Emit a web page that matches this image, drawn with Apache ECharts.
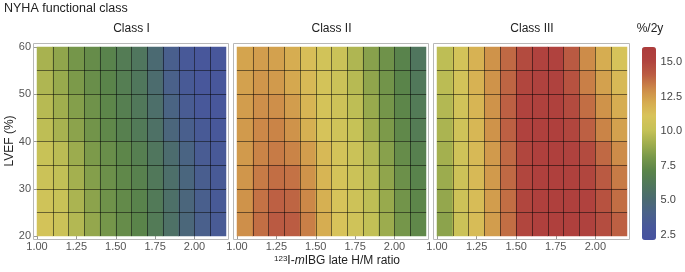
<!DOCTYPE html>
<html>
<head>
<meta charset="utf-8">
<script src="https://cdn.jsdelivr.net/npm/echarts@6/dist/echarts.min.js"></script>
<style>
  html, body { margin: 0; padding: 0; background: #fff; }
  #chart { width: 685px; height: 272px; }
</style>
</head>
<body>
<div id="chart"></div>
<script>
// H/M ratio bands (cell centres) and LVEF bands, bottom to top
var ratioCats = ['1.05', '1.15', '1.25', '1.35', '1.45', '1.55', '1.65', '1.75', '1.85', '1.95', '2.05', '2.15'];
var lvefCats = ['22.5', '27.5', '32.5', '37.5', '42.5', '47.5', '52.5', '57.5'];
var classNames = ['Class I', 'Class II', 'Class III'];
var xTickLabels = [1.00, 1.25, 1.50, 1.75, 2.00];
var barTickLabels = [2.5, 5.0, 7.5, 10.0, 12.5, 15.0];

// event rate %/2y, rows listed top (LVEF 55-60) to bottom (LVEF 20-25)
var classI = [
  [9.3, 8.7, 8.0, 7.5, 7.0, 6.5, 6.0, 5.0, 3.8, 3.2, 3.0, 3.0],
  [9.5, 8.9, 8.2, 7.6, 7.1, 6.6, 6.1, 5.2, 4.0, 3.3, 3.0, 3.0],
  [9.7, 9.1, 8.4, 7.8, 7.2, 6.7, 6.2, 5.4, 4.3, 3.5, 3.1, 3.0],
  [9.9, 9.3, 8.6, 7.9, 7.3, 6.8, 6.3, 5.6, 4.6, 3.8, 3.3, 3.1],
  [10.2, 9.8, 9.0, 8.2, 7.6, 7.2, 6.7, 6.0, 5.2, 4.3, 3.5, 3.2],
  [10.4, 10.0, 9.2, 8.4, 7.7, 7.3, 6.9, 6.2, 5.4, 4.5, 3.7, 3.3],
  [10.6, 10.2, 9.4, 8.6, 7.8, 7.4, 7.0, 6.3, 5.5, 4.6, 3.8, 3.3],
  [10.8, 10.4, 9.6, 8.8, 8.0, 7.5, 7.1, 6.4, 5.6, 4.7, 3.9, 3.4]
];
var classII = [
  [12.3, 12.5, 12.4, 12.0, 11.3, 10.7, 10.3, 9.5, 8.5, 7.8, 7.0, 6.0],
  [12.4, 12.7, 12.6, 12.2, 11.5, 10.8, 10.4, 9.7, 8.7, 7.9, 7.1, 6.2],
  [12.5, 12.9, 12.9, 12.5, 11.7, 10.9, 10.5, 9.9, 8.9, 8.0, 7.2, 6.4],
  [12.6, 13.1, 13.2, 12.8, 11.9, 11.0, 10.6, 10.1, 9.1, 8.2, 7.3, 6.5],
  [12.6, 13.2, 13.4, 13.2, 12.5, 11.5, 10.8, 10.3, 9.6, 8.5, 7.5, 6.8],
  [12.7, 13.4, 13.7, 13.6, 12.8, 11.7, 10.9, 10.4, 9.8, 8.7, 7.7, 7.0],
  [12.8, 13.6, 14.0, 13.9, 13.1, 11.9, 11.0, 10.5, 9.9, 8.9, 7.9, 7.2],
  [12.9, 13.7, 14.2, 14.1, 13.3, 12.0, 11.1, 10.6, 10.0, 9.0, 8.0, 7.3]
];
var classIII = [
  [9.9, 10.8, 11.8, 12.8, 13.8, 14.8, 15.2, 15.2, 14.2, 13.0, 12.0, 11.0],
  [9.8, 10.8, 11.8, 12.8, 13.9, 15.0, 15.3, 15.3, 14.5, 13.3, 12.4, 11.5],
  [9.6, 10.7, 11.7, 12.8, 14.0, 15.1, 15.4, 15.4, 14.8, 13.7, 12.8, 12.0],
  [9.4, 10.6, 11.6, 12.8, 14.0, 15.2, 15.5, 15.5, 15.0, 14.0, 13.2, 12.4],
  [9.2, 10.6, 11.5, 12.6, 13.8, 15.0, 15.5, 15.5, 15.3, 14.8, 13.8, 13.0],
  [9.0, 10.5, 11.5, 12.6, 13.8, 15.0, 15.5, 15.5, 15.4, 15.0, 14.2, 13.4],
  [8.8, 10.5, 11.4, 12.5, 13.7, 15.0, 15.5, 15.5, 15.5, 15.2, 14.5, 13.7],
  [8.6, 10.4, 11.4, 12.5, 13.7, 15.0, 15.5, 15.5, 15.5, 15.3, 14.7, 14.0]
];

var FONT = '"Liberation Sans", Arial, sans-serif';
var panelLeft = [37, 237, 437];
var panelWidth = [189, 189, 190];
var plotTop = 47, plotHeight = 189;

function toCells(rows) {
  var out = [];
  rows.forEach(function (row, r) {
    row.forEach(function (v, c) {
      out.push([c, rows.length - 1 - r, v]);
    });
  });
  return out;
}

var cellLine = { show: true, interval: 0, showMinLine: false, showMaxLine: false, lineStyle: { color: 'rgba(0,0,0,0.5)', width: 1 } };
var grids = [], xAxes = [], yAxes = [], series = [], graphics = [];
[classI, classII, classIII].forEach(function (rows, i) {
  grids.push({ left: panelLeft[i], top: plotTop, width: panelWidth[i], height: plotHeight });
  // category axes carry the cells and the cell lines
  xAxes.push({
    type: 'category', gridIndex: i, data: ratioCats, z: 10,
    axisLine: { show: false }, axisTick: { show: false, interval: 0 }, axisLabel: { show: false, interval: 0 },
    splitLine: cellLine
  });
  yAxes.push({
    type: 'category', gridIndex: i, data: lvefCats, z: 10,
    axisLine: { show: false }, axisTick: { show: false, interval: 0 }, axisLabel: { show: false, interval: 0 },
    splitLine: cellLine
  });
  // value axes carry the ticks and labels
  xAxes.push({
    type: 'value', gridIndex: i, min: 1, max: 2.2, position: 'bottom',
    axisLine: { show: false },
    axisTick: { show: true, length: 3, customValues: xTickLabels, lineStyle: { color: '#999' } },
    axisLabel: {
      customValues: xTickLabels, margin: 5, color: '#555', fontSize: 11, fontFamily: FONT,
      formatter: function (v) { return v.toFixed(2); }
    },
    splitLine: { show: false }
  });
  yAxes.push({
    type: 'value', gridIndex: i, min: 20, max: 60, interval: 10, position: 'left',
    axisLine: { show: false },
    axisTick: { show: i === 0, length: 3, lineStyle: { color: '#999' } },
    axisLabel: { show: i === 0, margin: 6, color: '#555', fontSize: 11, fontFamily: FONT },
    splitLine: { show: false }
  });
  series.push({
    type: 'heatmap', name: classNames[i],
    xAxisIndex: i * 2, yAxisIndex: i * 2,
    data: toCells(rows),
    itemStyle: { borderWidth: 0 },
    emphasis: { disabled: true },
    progressive: 0
  });
  graphics.push({
    type: 'rect', silent: true,
    shape: { x: panelLeft[i] - 3.5, y: 43.5, width: panelWidth[i] + 6, height: 196 },
    style: { fill: 'none', stroke: '#b8b8b8', lineWidth: 1 }
  });
  graphics.push({
    type: 'text', silent: true, x: panelLeft[i] + panelWidth[i] / 2, y: 29,
    style: { text: classNames[i], align: 'center', verticalAlign: 'middle', font: '12px ' + FONT, fill: '#222' }
  });
});

// colour bar scale
grids.push({ left: 642, top: 47, width: 14, height: 193 });
xAxes.push({ type: 'value', gridIndex: 3, show: false });
yAxes.push({
  type: 'value', gridIndex: 3, min: 2.1, max: 16.1, position: 'right',
  axisLine: { show: false },
  axisTick: { show: true, length: 3, customValues: [2.5, 3, 3.5, 4, 4.5, 5, 5.5, 6, 6.5, 7, 7.5, 8, 8.5, 9, 9.5, 10, 10.5, 11, 11.5, 12, 12.5, 13, 13.5, 14, 14.5, 15, 15.5, 16], lineStyle: { color: '#aaa' } },
  axisLabel: {
    customValues: barTickLabels, margin: 5, color: '#444', fontSize: 11, fontFamily: FONT,
    formatter: function (v) { return v.toFixed(1); }
  },
  splitLine: { show: false }
});

graphics.push(
  { type: 'text', silent: true, x: 4, y: 9,
    style: { text: 'NYHA functional class', align: 'left', verticalAlign: 'middle', font: '12.5px ' + FONT, fill: '#222' } },
  { type: 'text', silent: true, x: 650, y: 29,
    style: { text: '%/2y', align: 'center', verticalAlign: 'middle', font: '12px ' + FONT, fill: '#222' } },
  { type: 'text', silent: true, x: 10, y: 141, rotation: Math.PI / 2,
    style: { text: 'LVEF (%)', align: 'center', verticalAlign: 'middle', font: '12px ' + FONT, fill: '#222' } },
  { type: 'text', silent: true, x: 337, y: 261,
    style: {
      text: '{sup|123}I-{it|m}IBG late H/M ratio', align: 'center', verticalAlign: 'middle',
      font: '12px ' + FONT, fill: '#222',
      rich: {
        sup: { fontSize: 8, fontFamily: FONT, fill: '#222', verticalAlign: 'top', lineHeight: 8 },
        it: { fontSize: 12, fontFamily: FONT, fontStyle: 'italic', fill: '#222' }
      }
    } }
);

var chart = echarts.init(document.getElementById('chart'), null, { renderer: 'canvas' });
chart.setOption({
  animation: false,
  grid: grids,
  xAxis: xAxes,
  yAxis: yAxes,
  visualMap: {
    type: 'continuous', seriesIndex: [0, 1, 2],
    min: 2.1, max: 16.1, calculable: false, realtime: false,
    orient: 'vertical', left: 642, top: 47, itemWidth: 14, itemHeight: 193, padding: 0,
    text: null, hoverLink: false,
    inRange: {
      color: ['#4752a0', '#48589a', '#4a6288', '#4b6b70', '#50775c', '#5a844a', '#78984a', '#a0ae4e',
              '#c6c257', '#d8c35a', '#d6ab50', '#cc8848', '#bb5c42', '#b0433e', '#ad3c3c']
    }
  },
  graphic: graphics,
  series: series
});
</script>
</body>
</html>
